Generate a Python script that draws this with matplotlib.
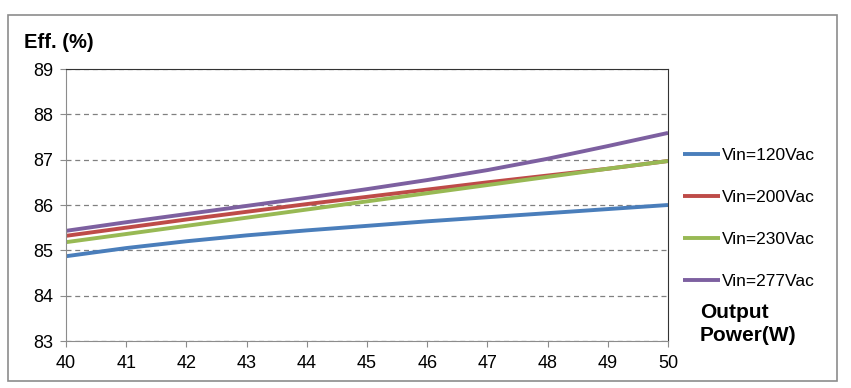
import matplotlib
matplotlib.use("Agg")
import matplotlib.pyplot as plt
from matplotlib.patches import Rectangle

plt.rcParams['font.family'] = ['Liberation Sans', 'DejaVu Sans']

# data
power = [40, 41, 42, 43, 44, 45, 46, 47, 48, 49, 50]
eff_120 = [84.87, 85.05, 85.20, 85.33, 85.44, 85.54, 85.64, 85.73, 85.82, 85.91, 86.00]
eff_200 = [85.32, 85.50, 85.68, 85.85, 86.02, 86.18, 86.34, 86.50, 86.65, 86.80, 86.97]
eff_230 = [85.18, 85.36, 85.54, 85.72, 85.90, 86.08, 86.26, 86.44, 86.62, 86.80, 86.97]
eff_277 = [85.43, 85.62, 85.80, 85.98, 86.16, 86.35, 86.55, 86.77, 87.02, 87.30, 87.59]
labels = ['Vin=120Vac', 'Vin=200Vac', 'Vin=230Vac', 'Vin=277Vac']
colors = ['#4a7ebb', '#be4b48', '#98b954', '#7d60a0']
y_ticks = [83, 84, 85, 86, 87, 88, 89]

fig = plt.figure(figsize=(8.51, 3.88), dpi=100)
fig.patches.append(Rectangle((8 / 851, 1 - 381 / 388), 829 / 851, 366 / 388,
                             transform=fig.transFigure, fill=False,
                             edgecolor='#8c8c8c', linewidth=1.2))

ax = fig.add_axes([66 / 851, 1 - 341 / 388, 602 / 851, 272 / 388])
for vals, lab, c in zip([eff_120, eff_200, eff_230, eff_277], labels, colors):
    ax.plot(power, vals, color=c, linewidth=2.8, label=lab, solid_capstyle='butt')

ax.set_xlim(40, 50)
ax.set_ylim(83, 89)
ax.set_xticks(power)
ax.set_yticks(y_ticks)
ax.tick_params(axis='x', labelsize=13, length=4, color='#8c8c8c', pad=6)
ax.tick_params(axis='y', labelsize=13, length=4, color='#8c8c8c', pad=5)
ax.grid(axis='y', linestyle=(0, (4, 3)), color='#808080', linewidth=0.9)
for s in ['left', 'bottom']:
    ax.spines[s].set_color('#8c8c8c')
for s in ['top', 'right']:
    ax.spines[s].set_color('#333333')
ax.spines['top'].set_linestyle((0, (4, 1)))

fig.text(24 / 851, 1 - 42 / 388, 'Eff. (%)', fontsize=14.5, fontweight='bold',
         va='center', ha='left')

leg = ax.legend(loc='upper left', bbox_to_anchor=(1.014, 0.735), frameon=False,
                fontsize=12.5, handlelength=2.1, handletextpad=0.1,
                labelspacing=1.55, borderaxespad=0)
fig.text(700 / 851, 1 - 324 / 388, 'Output\nPower(W)', fontsize=15,
         fontweight='bold', va='center', ha='left', linespacing=1.3)

fig.savefig('out.png', dpi=100)
